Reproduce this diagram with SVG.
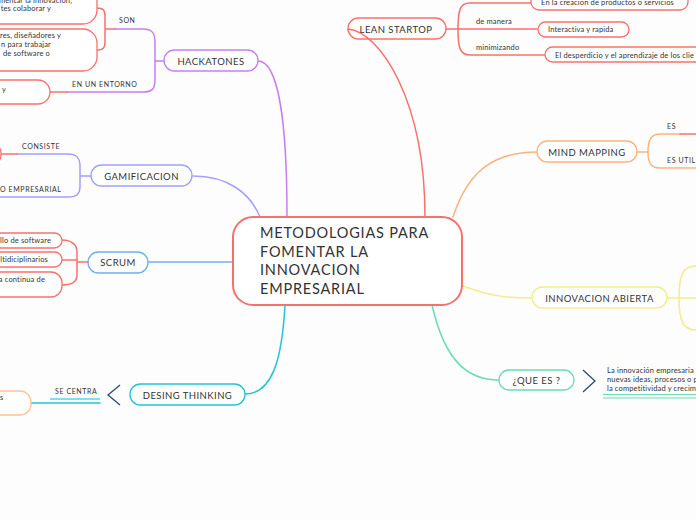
<svg xmlns="http://www.w3.org/2000/svg" width="696" height="520" viewBox="0 0 696 520">
<style>
.t{font-family:Lato,"Liberation Sans",sans-serif;fill:#333}
.n{font-size:9.5px;letter-spacing:0.45px;text-anchor:middle}
.s{font-size:7.5px;letter-spacing:0.15px}
.l{font-size:7px;letter-spacing:0.6px}
.e{text-anchor:end}
.c{fill:none;stroke-width:1.5;stroke-linecap:round}
.red{stroke:#f7716c}
.pur{stroke:#c67fee}
.lav{stroke:#a3a0fb}
.blu{stroke:#6bb1ef}
.cya{stroke:#22c3d6}
.ora{stroke:#ffb27e}
.yel{stroke:#f6ea8c}
.min{stroke:#66ddb2}
.chev{fill:none;stroke:#2d4a6b;stroke-width:1.3}
</style>
<rect width="696" height="520" fill="#fdfdfd"/>

<g id="connectors">
  <path class="c pur" d="M258,61 C278,61 287,120 287,217"/>
  <path class="c lav" d="M193,176 C228,176 250,193 260,217"/>
  <path class="c blu" d="M148,262 L233,262"/>
  <path class="c cya" d="M285,305 C282,360 272,394 245,394"/>
  <path class="c red" d="M348,29 C380,32 425,100 425,217"/>
  <path class="c ora" d="M453,217 C468,170 495,152 537,152"/>
  <path class="c yel" d="M460,285 C490,296 505,298 532,298"/>
  <path class="c min" d="M432,305 C445,362 468,380 499,380"/>
</g>

<g id="central">
  <rect x="233" y="217" width="229" height="88" rx="20" fill="#fff" stroke="#f7716c" stroke-width="2"/>
  <text class="t" font-size="14.5" letter-spacing="0.8"><tspan x="260" y="238">METODOLOGIAS PARA</tspan><tspan x="260" y="256.5">FOMENTAR LA</tspan><tspan x="260" y="275">INNOVACION</tspan><tspan x="260" y="293.5">EMPRESARIAL</tspan></text>
</g>

<g id="hackatones">
  <rect x="164" y="50" width="94" height="21" rx="10.5" fill="#fff" stroke="#c67fee" stroke-width="1.3"/>
  <text class="t n" x="211" y="64.5">HACKATONES</text>
  <path class="c pur" d="M164,61 L155,61 M115,29 L143,29 C152,29 155,33 155,42 L155,80 C155,89 152,92 143,92 L67,92"/>
  <path class="c red" d="M97,8 C103,8 105,10 105,16 L105,42 C105,48 103,50 97,50 M105,29 L115,29 M50,92 L67,92"/>
  <text class="t l" x="119" y="22.5">SON</text>
  <text class="t l" x="72" y="86.5">EN UN ENTORNO</text>
  <rect x="-100" y="-30" width="197" height="54" rx="14" fill="#fff" stroke="#f7716c" stroke-width="1.3"/>
  <text class="t s e" x="72" y="2.5">mentar la innovación,</text>
  <text class="t s e" x="51" y="10.5">tes colaborar y</text>
  <rect x="-100" y="29" width="197" height="42" rx="14" fill="#fff" stroke="#f7716c" stroke-width="1.3"/>
  <text class="t s e" x="61" y="38">res, diseñadores y</text>
  <text class="t s e" x="51" y="47">n para trabajar</text>
  <text class="t s e" x="50" y="56">de software o</text>
  <rect x="-100" y="80" width="150" height="24" rx="12" fill="#fff" stroke="#f7716c" stroke-width="1.3"/>
  <text class="t s" x="2" y="91.5">y</text>
</g>

<g id="gamificacion">
  <rect x="91" y="165" width="101" height="21" rx="10.5" fill="#fff" stroke="#a3a0fb" stroke-width="1.3"/>
  <text class="t n" x="141.5" y="179.5">GAMIFICACION</text>
  <path class="c lav" d="M91,176 L80,176 M17,154 L68,154 C77,154 80,158 80,166 L80,186 C80,194 77,197 68,197 L0,197"/>
  <path class="c red" d="M0,154 L17,154"/>
  <rect x="-100" y="143" width="101" height="22" rx="10" fill="#fff" stroke="#f7716c" stroke-width="1.3"/>
  <text class="t l" x="22" y="148.5">CONSISTE</text>
  <text class="t l" x="0" y="191.5">O EMPRESARIAL</text>
</g>

<g id="scrum">
  <rect x="88" y="252" width="60" height="21" rx="10.5" fill="#fff" stroke="#6bb1ef" stroke-width="1.3"/>
  <text class="t n" x="118" y="266">SCRUM</text>
  <path class="c red" d="M88,262 L77,262 M62,240 C72,240 77,245 77,252 L77,275 C77,282 72,285 62,285 M62,260 L77,260"/>
  <rect x="-100" y="233" width="162" height="15" rx="7.5" fill="#fff" stroke="#f7716c" stroke-width="1.3"/>
  <text class="t s e" x="51" y="243">llo de software</text>
  <rect x="-100" y="252" width="162" height="15" rx="7.5" fill="#fff" stroke="#f7716c" stroke-width="1.3"/>
  <text class="t s e" x="48" y="262">ltidiciplinarios</text>
  <rect x="-100" y="272" width="162" height="25" rx="11" fill="#fff" stroke="#f7716c" stroke-width="1.3"/>
  <text class="t s e" x="45" y="282">a continua de</text>
</g>

<g id="desing-thinking">
  <rect x="130" y="384" width="115" height="21" rx="10.5" fill="#fff" stroke="#22c3d6" stroke-width="1.3"/>
  <text class="t n" x="187.5" y="398.5">DESING THINKING</text>
  <path class="chev" d="M120,385 L108,395 L120,405"/>
  <path d="M50,399 L100,399" stroke="#7fe0e6" stroke-width="2"/>
  <path class="c cya" d="M31,403 L100,403" stroke-width="1.2"/>
  <text class="t l" x="55" y="394">SE CENTRA</text>
  <rect x="-100" y="391" width="131" height="24" rx="11" fill="#fff" stroke="#ffc29c" stroke-width="1.3"/>
  <text class="t s" x="0" y="400">s</text>
</g>

<g id="lean-startop">
  <rect x="348" y="18" width="98" height="21" rx="10.5" fill="none" stroke="#f7716c" stroke-width="1.3"/>
  <text class="t n" x="396" y="32.5">LEAN STARTOP</text>
  <path class="c red" d="M446,29 L537,29 M458,29 C458,10 460,3 470,3 L531,3 M458,29 C458,48 460,55 470,55 L545,55"/>
  <text class="t s" x="476" y="24">de manera</text>
  <text class="t s" x="476" y="50">minimizando</text>
  <rect x="531" y="-10" width="157" height="20" rx="8" fill="#fff" stroke="#f7716c" stroke-width="1.3"/>
  <text class="t s" x="541" y="5">En la creacion de productos o servicios</text>
  <rect x="538" y="22" width="91" height="15" rx="7.5" fill="#fff" stroke="#f7716c" stroke-width="1.3"/>
  <text class="t s" x="548" y="32">Interactiva y rapida</text>
  <rect x="545" y="47" width="200" height="15" rx="7.5" fill="#fff" stroke="#f7716c" stroke-width="1.3"/>
  <text class="t s" x="555" y="58">El desperdicio y el aprendizaje de los clie</text>
</g>

<g id="mind-mapping">
  <rect x="537" y="141" width="100" height="21" rx="10.5" fill="#fff" stroke="#ffb27e" stroke-width="1.3"/>
  <text class="t n" x="587" y="155.5">MIND MAPPING</text>
  <path class="c ora" d="M637,152 L648,152 M648,152 C648,140 651,134 660,134 L680,134 M648,152 C648,163 651,168 660,168 L696,168"/>
  <path class="c red" d="M680,134 L696,134"/>
  <text class="t l" x="667" y="129">ES</text>
  <text class="t l" x="667" y="163">ES UTILI</text>
</g>

<g id="innovacion-abierta">
  <rect x="532" y="287" width="135" height="21" rx="10.5" fill="#fff" stroke="#f6ea8c" stroke-width="1.3"/>
  <text class="t n" x="599.5" y="301.5">INNOVACION ABIERTA</text>
  <path class="c yel" d="M667,298 L696,298 M679,298 C679,275 683,266 696,266 M679,298 C679,321 683,330 696,330"/>
</g>

<g id="que-es">
  <rect x="499" y="370" width="75" height="20" rx="10" fill="#fff" stroke="#66ddb2" stroke-width="1.3"/>
  <text class="t n" x="536.5" y="384">¿QUE ES ?</text>
  <path class="chev" d="M583,370 L595,381 L583,392"/>
  <text class="t s" x="607" y="372.5">La innovación empresaria</text>
  <text class="t s" x="607" y="381.5">nuevas ideas, procesos o p</text>
  <text class="t s" x="607" y="390.5">la competitividad y crecim</text>
  <path d="M603,394.5 L696,394.5 M603,398 L696,398" stroke="#66ddb2" stroke-width="1.2"/>
</g>
</svg>
